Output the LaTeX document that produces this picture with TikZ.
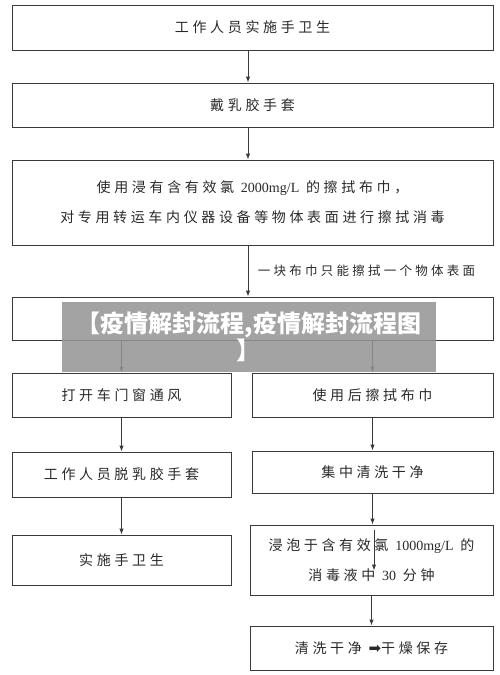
\documentclass[tikz,border=0pt]{standalone}
\usepackage{fontspec}
\usetikzlibrary{arrows.meta,positioning}
\newfontfamily\cjk[LetterSpace=26]{Noto Sans CJK SC}
\newfontfamily\cjkmark{Noto Sans CJK SC}
\newfontfamily\lat{Liberation Serif}
\newfontfamily\sym{DejaVu Sans}
\definecolor{boxline}{HTML}{3A3A3A}
\definecolor{txt}{HTML}{2A2A2A}

\tikzset{
  box/.style={draw=boxline, line width=0.9pt, inner sep=0pt, text=txt,
    align=center, font=\cjk\fontsize{14}{30}\selectfont},
  flow/.style={draw=boxline, line width=0.9pt, -{Latex[length=6pt,width=4.5pt]}},
}

\begin{document}
\begin{tikzpicture}[x=1pt,y=-1pt]
    \useasboundingbox (0,0) rectangle (500,675);
    \fill[white] (0,0) rectangle (500,675);

    % Main column
    \node[box, minimum width=481, minimum height=45] (hand) at (252.5,27.5) {工作人员实施手卫生};
    \node[box, minimum width=481, minimum height=44] (glove) at (252.5,105) {戴乳胶手套};
    \node[box, minimum width=481, minimum height=85] (wipe) at (252.5,202.5)
        {使用浸有含有效氯 {\lat 2000mg/L} 的擦拭布巾，\\对专用转运车内仪器设备等物体表面进行擦拭消毒};
    \node[box, minimum width=481, minimum height=43] (split) at (252.5,318.5) {};

    % Left branch
    \node[box, minimum width=219, minimum height=44] (air) at (121.5,395) {打开车门窗通风};
    \node[box, minimum width=219, minimum height=45] (off) at (121.5,474.5) {工作人员脱乳胶手套};
    \node[box, minimum width=219, minimum height=50] (hand2) at (121.5,560) {实施手卫生};

    % Right branch
    \node[box, minimum width=241, minimum height=44] (used) at (372.5,395) {使用后擦拭布巾};
    \node[box, minimum width=241, minimum height=42] (wash) at (372.5,472) {集中清洗干净};
    \node[box, minimum width=243, minimum height=70] (soak) at (371.5,560)
        {浸泡于含有效氯 {\lat 1000mg/L} 的\\消毒液中 {\lat 30} 分钟};
    \node[box, minimum width=243, minimum height=44] (dry) at (371.5,648)
        {清洗干净 {\sym\fontsize{15}{15}\selectfont ➡}干燥保存};

    % Connectors
    \draw[flow] ([xshift=-4.5pt]hand.south) -- ([xshift=-4.5pt]glove.north);
    \draw[flow] ([xshift=-4.5pt]glove.south) -- ([xshift=-4.5pt]wipe.north);
    \draw[flow] ([xshift=-4.5pt]wipe.south) -- ([xshift=-4.5pt]split.north)
        node[midway, right=6pt, text=txt, font=\cjk\fontsize{12.5}{14}\selectfont] (note) {一块布巾只能擦拭一个物体表面};
    \draw[flow] (air.north |- split.south) -- (air.north);
    \draw[flow] (used.north |- split.south) -- (used.north);
    \draw[flow] (air) -- (off);
    \draw[flow] (off) -- (hand2);
    \draw[flow] (used) -- (wash);
    \draw[flow] (wash.south) -- (wash.south |- soak.north);
    \coordinate (soakin) at ([xshift=2.5pt,yshift=-46pt]soak.north);
    \draw[flow] ([xshift=2.5pt,yshift=-5pt]soak.north) -- (soakin);
    \draw[flow] (soak) -- (dry);

    % Watermark
    \node[fill=black!42, fill opacity=0.85, text opacity=1, text=white, inner sep=0pt,
        minimum width=374, minimum height=70, align=center,
        font=\cjkmark\bfseries\fontsize{24}{27}\selectfont] (mark) at (249,337)
        {【疫情解封流程,疫情解封流程图\\】};
\end{tikzpicture}
\end{document}
